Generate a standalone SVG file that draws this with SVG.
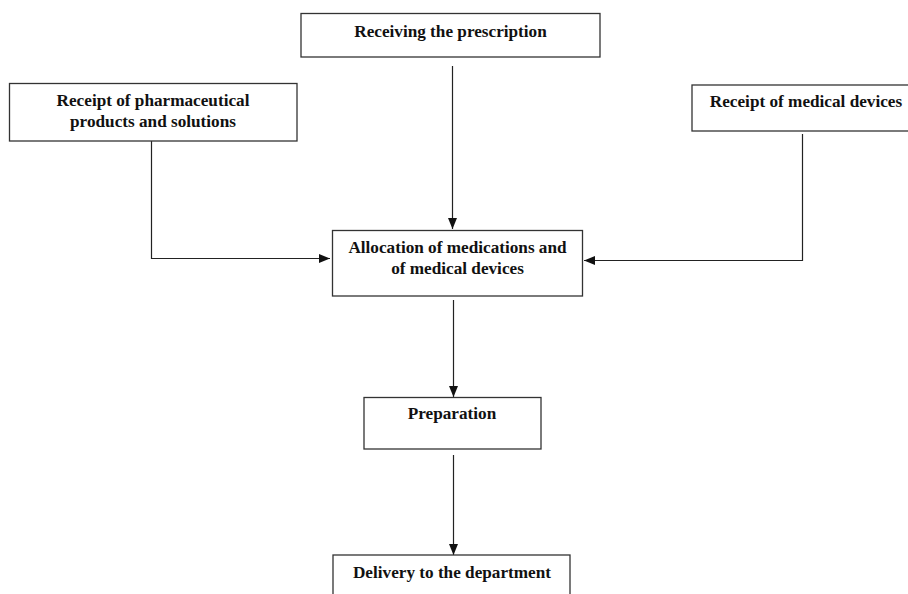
<svg xmlns="http://www.w3.org/2000/svg" width="908" height="594" viewBox="0 0 908 594">
<style>
.box{fill:#fff;stroke:#333;stroke-width:1.3}
.t{font-family:"Liberation Serif","Times New Roman",serif;font-weight:bold;font-size:17.2px;fill:#111;text-anchor:middle}
.c{fill:none;stroke:#222;stroke-width:1.2}
</style>
<defs>
<marker id="ah" markerWidth="11" markerHeight="9" refX="11" refY="4.5" orient="auto" markerUnits="userSpaceOnUse">
<path d="M0,0 L11,4.5 L0,9 Z" fill="#111"/>
</marker>
</defs>
<rect width="908" height="594" fill="#fff"/>
<g id="connectors">
<path class="c" d="M452.5,66 V229" marker-end="url(#ah)"/>
<path class="c" d="M151.5,141 V258.5 H330" marker-end="url(#ah)"/>
<path class="c" d="M802.5,134 V260.5 H584" marker-end="url(#ah)"/>
<path class="c" d="M453.5,300 V397" marker-end="url(#ah)"/>
<path class="c" d="M453.5,455 V555" marker-end="url(#ah)"/>
</g>
<g id="receiving">
<rect class="box" x="301" y="13.5" width="299" height="43.5"/>
<text class="t" x="450.5" y="37">Receiving the prescription</text>
</g>
<g id="pharma">
<rect class="box" x="9.5" y="83.5" width="287.5" height="57.5"/>
<text class="t" x="153" y="106">Receipt of pharmaceutical</text>
<text class="t" x="153" y="127">products and solutions</text>
</g>
<g id="devices">
<rect class="box" x="692" y="85" width="220" height="46"/>
<text class="t" x="806" y="107">Receipt of medical devices</text>
</g>
<g id="allocation">
<rect class="box" x="332.5" y="230.5" width="250" height="65.5"/>
<text class="t" x="457.5" y="253">Allocation of medications and</text>
<text class="t" x="457.5" y="274">of medical devices</text>
</g>
<g id="preparation">
<rect class="box" x="364" y="397.5" width="177" height="51.5"/>
<text class="t" x="452" y="419">Preparation</text>
</g>
<g id="delivery">
<rect class="box" x="333" y="555" width="237" height="50"/>
<text class="t" x="452" y="578">Delivery to the department</text>
</g>
</svg>
